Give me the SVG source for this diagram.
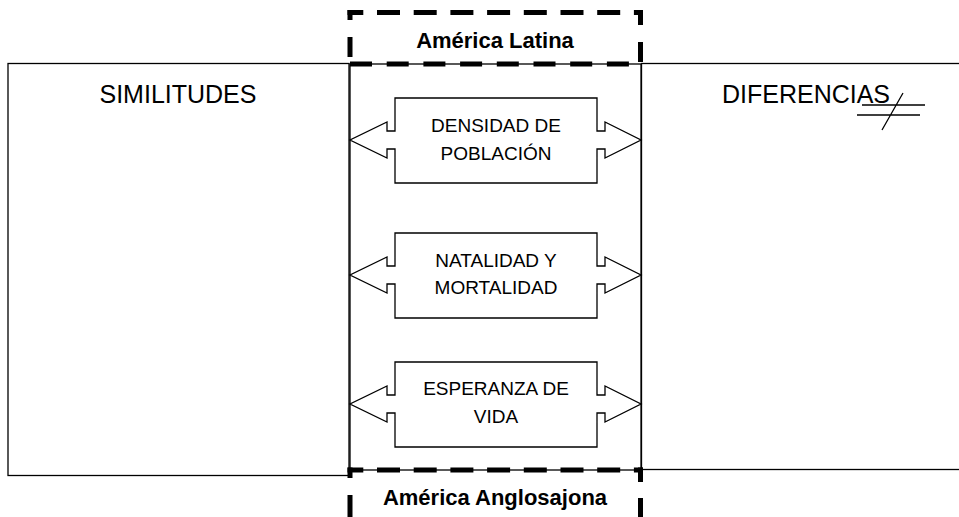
<svg xmlns="http://www.w3.org/2000/svg" width="959" height="517" viewBox="0 0 959 517">
<style>
.box{fill:#fff;stroke:#000;stroke-width:1.3}
.line{fill:none;stroke:#000;stroke-width:1.3}
.dash{fill:none;stroke:#000;stroke-width:5;stroke-linecap:butt}
.big{font-family:"Liberation Sans",Arial,sans-serif;font-size:25px;fill:#000;text-anchor:middle}
.lbl{font-family:"Liberation Sans",Arial,sans-serif;font-size:19px;fill:#000;text-anchor:middle}
.ttl{font-family:"Liberation Sans",Arial,sans-serif;font-size:22px;font-weight:bold;fill:#000;text-anchor:middle}
</style>
<rect width="959" height="517" fill="#fff"/>
<g id="similitudes">
<rect class="box" x="8" y="63.5" width="341" height="412"/>
<text class="big" x="178" y="103">SIMILITUDES</text>
</g>
<g id="diferencias">
<rect class="box" x="641.5" y="63.5" width="330" height="406"/>
<text class="big" x="806" y="103">DIFERENCIAS</text>
<g id="no-igual">
<path class="line" d="M862,105 H925 M857,115 H920 M903,93 L882,130"/>
</g>
</g>
<g id="centro">
<rect class="box" x="350" y="64" width="291" height="406"/>
</g>
<g id="america-latina">
<path class="dash" d="M347.5,12.5 H643" stroke-dasharray="23 13.7" stroke-dashoffset="7.2"/>
<path class="dash" d="M350,64 H643" stroke-dasharray="22 14.7"/>
<path class="dash" d="M350,10 V62" stroke-dasharray="10 17 20 100"/>
<path class="dash" d="M640.5,10 V62" stroke-dasharray="15 17 20 100"/>
<text class="ttl" x="495" y="48">América Latina</text>
</g>
<g id="america-anglosajona">
<path class="dash" d="M347.5,470 H643" stroke-dasharray="23 13.7" stroke-dashoffset="7.2"/>
<path class="dash" d="M350,467.5 V517" stroke-dasharray="10.5 17 40"/>
<path class="dash" d="M640.5,467.5 V517" stroke-dasharray="14.5 16 40"/>
<text class="ttl" x="495" y="505">América Anglosajona</text>
</g>
<g id="connectors">
<g id="densidad">
<path class="box" d="M395,98 H597 V131 H605 V122 L641,140 L605,158 V149 H597 V183 H395 V149 H387 V158 L350,140 L387,122 V131 H395 Z"/>
<text class="lbl" x="496" y="132">DENSIDAD DE</text>
<text class="lbl" x="496" y="160">POBLACIÓN</text>
</g>
<g id="natalidad">
<path class="box" d="M395,233 H597 V266 H605 V257 L641,275 L605,293 V284 H597 V318 H395 V284 H387 V293 L350,275 L387,257 V266 H395 Z"/>
<text class="lbl" x="496" y="267">NATALIDAD Y</text>
<text class="lbl" x="496" y="294">MORTALIDAD</text>
</g>
<g id="esperanza">
<path class="box" d="M395,362 H597 V395 H605 V386 L641,404 L605,422 V413 H597 V447 H395 V413 H387 V422 L350,404 L387,386 V395 H395 Z"/>
<text class="lbl" x="496" y="395">ESPERANZA DE</text>
<text class="lbl" x="496" y="423">VIDA</text>
</g>
</g>
</svg>
